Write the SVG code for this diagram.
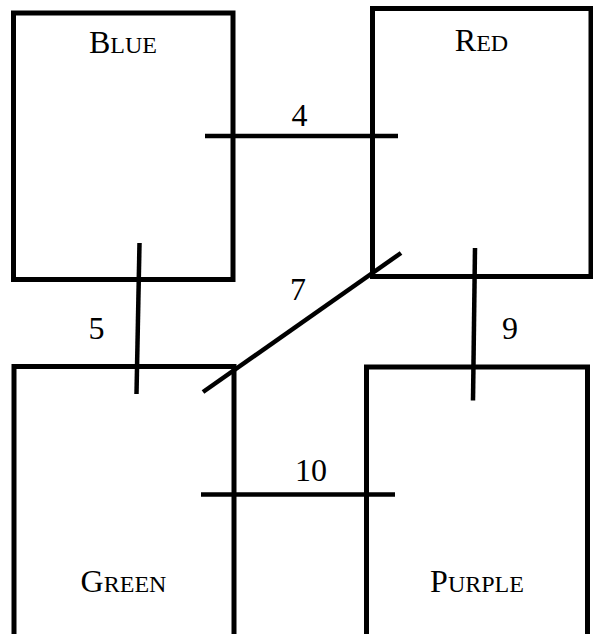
<svg xmlns="http://www.w3.org/2000/svg" width="593" height="634" viewBox="0 0 593 634">
<style>
.box{fill:none;stroke:#000;stroke-width:5}
.edge{stroke:#000;stroke-width:4.5;fill:none}
text{font-family:"Liberation Serif","Times New Roman",serif;fill:#000;font-size:32px}
.lbl{text-anchor:middle}
.sc{font-size:24px}
</style>
<rect width="593" height="634" fill="#fff"/>
<g id="blue">
<rect class="box" x="13.5" y="13" width="219.5" height="266.5"/>
<text class="lbl" x="123" y="53">B<tspan class="sc">LUE</tspan></text>
</g>
<g id="red">
<rect class="box" x="372.5" y="8.5" width="218.5" height="268"/>
<text class="lbl" x="481.5" y="51">R<tspan class="sc">ED</tspan></text>
</g>
<g id="green">
<rect class="box" x="14" y="366.5" width="220" height="280"/>
<text class="lbl" x="123.5" y="592">G<tspan class="sc">REEN</tspan></text>
</g>
<g id="purple">
<rect class="box" x="366.5" y="367" width="221" height="280"/>
<text class="lbl" x="477" y="592">P<tspan class="sc">URPLE</tspan></text>
</g>
<g id="connectors">
<line class="edge" x1="205" y1="136" x2="398" y2="136"/>
<text class="lbl" x="299.5" y="126">4</text>
<line class="edge" x1="139.5" y1="243" x2="136.5" y2="394"/>
<text class="lbl" x="96.5" y="339">5</text>
<line class="edge" x1="203" y1="392" x2="401" y2="253"/>
<text class="lbl" x="298" y="300">7</text>
<line class="edge" x1="475" y1="248" x2="473" y2="400.5"/>
<text class="lbl" x="510" y="339">9</text>
<line class="edge" x1="201" y1="494.5" x2="395" y2="494.5"/>
<text class="lbl" x="311" y="481">10</text>
</g>
</svg>
